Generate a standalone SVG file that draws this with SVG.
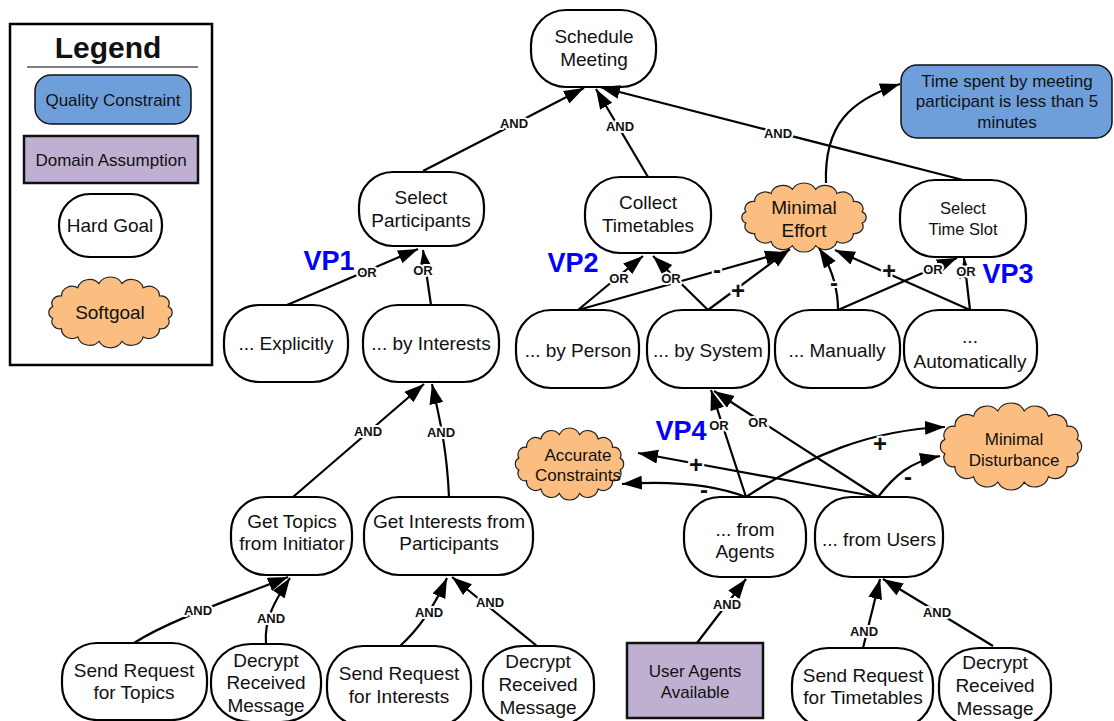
<svg xmlns="http://www.w3.org/2000/svg" width="1114" height="721" viewBox="0 0 1114 721">
<defs>
<style>
.goal{fill:#fff;stroke:#000;stroke-width:2.2}
.soft{fill:#fbbd80;stroke:#222;stroke-width:1.2}
.qc{fill:#6f9fdb;stroke:#111;stroke-width:1.5}
.da{fill:#bfb0d1;stroke:#111;stroke-width:2.5}
text{font-family:"Liberation Sans",Arial,sans-serif;fill:#111;text-anchor:middle}
.t17{font-size:19px}
.t15{font-size:17px}
.t16{font-size:16.5px}
.lbl{font-size:13px;font-weight:bold;stroke:#fff;stroke-width:4;paint-order:stroke;stroke-linejoin:round}
.sgn{font-size:24px;font-weight:bold;stroke:#fff;stroke-width:4;paint-order:stroke}
.vp{font-size:27px;font-weight:bold;fill:#0000ff}
.ln{fill:none;stroke:#000;stroke-width:2.2;marker-end:url(#arr)}
</style>
<marker id="arr" markerUnits="userSpaceOnUse" markerWidth="22" markerHeight="16" refX="20" refY="7" orient="auto"><path d="M0,0 L20,7 L0,14 Z" fill="#000"/></marker>
<!-- generic cloud outline, roughly a 100x60 box -->
<path id="cloud" vector-effect="non-scaling-stroke" d="M5.9,34.9 A5.5,5.5 0 0 1 5.9,25.1 A6.3,6.3 0 0 1 12.6,16.1 A8,8 0 0 1 25,9.2 A9.3,9.3 0 0 1 41.2,5.5 A9.8,9.8 0 0 1 58.8,5.5 A9.3,9.3 0 0 1 75,9.2 A8,8 0 0 1 87.4,16.1 A6.3,6.3 0 0 1 94.1,25.1 A5.5,5.5 0 0 1 94.1,34.9 A6.3,6.3 0 0 1 87.4,43.9 A8,8 0 0 1 75,50.8 A9.3,9.3 0 0 1 58.8,54.5 A9.8,9.8 0 0 1 41.2,54.5 A9.3,9.3 0 0 1 25,50.8 A8,8 0 0 1 12.6,43.9 A6.3,6.3 0 0 1 5.9,34.9 Z"/>
</defs>
<rect width="1114" height="721" fill="#fff"/>

<!-- legend -->
<g id="legend">
<rect x="10" y="24" width="202" height="341" fill="#fff" stroke="#000" stroke-width="2.5"/>
<text x="108" y="58" style="font-size:30px;font-weight:bold">Legend</text>
<line x1="27" y1="67" x2="198" y2="67" stroke="#000" stroke-width="1.2"/>
<rect class="qc" x="35" y="75" width="156" height="49" rx="16"/>
<text class="t15" x="113" y="106">Quality Constraint</text>
<rect class="da" x="24" y="136" width="174" height="47"/>
<text class="t15" x="111" y="166">Domain Assumption</text>
<rect class="goal" x="59" y="194" width="103" height="63" rx="31"/>
<text class="t17" x="110" y="232">Hard Goal</text>
<use href="#cloud" class="soft" transform="translate(45,277) scale(1.31,1.18)"/>
<text class="t17" x="110" y="319">Softgoal</text>
</g>

<!-- goals -->
<g id="schedule-meeting"><rect class="goal" x="531" y="10" width="125" height="77" rx="35"/><text class="t17" x="594" y="43">Schedule</text><text class="t17" x="594" y="66">Meeting</text></g>
<g id="select-participants"><rect class="goal" x="359" y="172" width="125" height="74" rx="34"/><text class="t17" x="421" y="204">Select</text><text class="t17" x="421" y="227">Participants</text></g>
<g id="collect-timetables"><rect class="goal" x="585" y="177" width="126" height="76" rx="35"/><text class="t17" x="648" y="209">Collect</text><text class="t17" x="648" y="232">Timetables</text></g>
<g id="minimal-effort"><use href="#cloud" class="soft" transform="translate(738,183) scale(1.32,1.15)"/><text class="t17" x="804" y="214">Minimal</text><text class="t17" x="804" y="237">Effort</text></g>
<g id="select-time-slot"><rect class="goal" x="900" y="180" width="126" height="77" rx="35"/><text class="t16" x="963" y="214">Select</text><text class="t16" x="963" y="235">Time Slot</text></g>
<g id="time-spent"><rect class="qc" x="901" y="65" width="211" height="73" rx="16"/><text class="t15" x="1007" y="87">Time spent by meeting</text><text class="t15" x="1007" y="107">participant is less than 5</text><text class="t15" x="1007" y="128">minutes</text></g>

<g id="explicitly"><rect class="goal" x="224" y="305" width="124" height="77" rx="35"/><text class="t17" x="286" y="350">... Explicitly</text></g>
<g id="by-interests"><rect class="goal" x="363" y="305" width="136" height="77" rx="35"/><text class="t17" x="431" y="350">... by Interests</text></g>
<g id="by-person"><rect class="goal" x="516" y="310" width="123" height="78" rx="35"/><text class="t17" x="578" y="357">... by Person</text></g>
<g id="by-system"><rect class="goal" x="647" y="310" width="122" height="78" rx="35"/><text class="t17" x="708" y="357">... by System</text></g>
<g id="manually"><rect class="goal" x="775" y="310" width="125" height="78" rx="35"/><text class="t17" x="837" y="357">... Manually</text></g>
<g id="automatically"><rect class="goal" x="904" y="310" width="133" height="78" rx="35"/><text class="t17" x="970" y="343">...</text><text class="t17" x="970" y="368">Automatically</text></g>

<g id="accurate-constraints"><use href="#cloud" class="soft" transform="translate(512,428) scale(1.15,1.2)"/><text class="t15" x="578" y="461">Accurate</text><text class="t15" x="578" y="481">Constraints</text></g>
<g id="minimal-disturbance"><use href="#cloud" class="soft" transform="translate(936,403) scale(1.5,1.45)"/><text class="t15" x="1014" y="445">Minimal</text><text class="t15" x="1014" y="466">Disturbance</text></g>

<g id="from-agents"><rect class="goal" x="684" y="497" width="122" height="80" rx="36"/><text class="t17" x="745" y="536">... from</text><text class="t17" x="745" y="558">Agents</text></g>
<g id="from-users"><rect class="goal" x="815" y="497" width="128" height="80" rx="36"/><text class="t17" x="879" y="546">... from Users</text></g>
<g id="get-topics"><rect class="goal" x="231" y="497" width="121" height="78" rx="35"/><text class="t17" x="292" y="528">Get Topics</text><text class="t17" x="292" y="550">from Initiator</text></g>
<g id="get-interests"><rect class="goal" x="364" y="497" width="169" height="78" rx="35"/><text class="t17" x="449" y="528">Get Interests from</text><text class="t17" x="449" y="550">Participants</text></g>

<g id="send-topics"><rect class="goal" x="62" y="643" width="145" height="77" rx="35"/><text class="t17" x="134" y="677">Send Request</text><text class="t17" x="134" y="699">for Topics</text></g>
<g id="decrypt-1"><rect class="goal" x="211" y="644" width="110" height="78" rx="40" ry="36"/><text class="t17" x="266" y="667">Decrypt</text><text class="t17" x="266" y="689">Received</text><text class="t17" x="266" y="712">Message</text></g>
<g id="send-interests"><rect class="goal" x="327" y="646" width="144" height="80" rx="36"/><text class="t17" x="399" y="680">Send Request</text><text class="t17" x="399" y="703">for Interests</text></g>
<g id="decrypt-2"><rect class="goal" x="483" y="646" width="111" height="80" rx="40" ry="36"/><text class="t17" x="538" y="668">Decrypt</text><text class="t17" x="538" y="691">Received</text><text class="t17" x="538" y="714">Message</text></g>
<g id="user-agents"><rect class="da" x="627" y="643" width="136" height="75"/><text class="t15" x="695" y="677">User Agents</text><text class="t15" x="695" y="698">Available</text></g>
<g id="send-timetables"><rect class="goal" x="792" y="648" width="141" height="80" rx="36"/><text class="t17" x="863" y="682">Send Request</text><text class="t17" x="863" y="704">for Timetables</text></g>
<g id="decrypt-3"><rect class="goal" x="939" y="648" width="112" height="80" rx="40" ry="36"/><text class="t17" x="995" y="669">Decrypt</text><text class="t17" x="995" y="692">Received</text><text class="t17" x="995" y="715">Message</text></g>

<!-- connectors -->
<g id="connectors">
<path class="ln" d="M423,171 L584,88"/>
<path class="ln" d="M648,177 L596,89"/>
<path class="ln" d="M963,180 L600,87"/>
<path class="ln" d="M826,183 C824,125 850,100 900,84"/>
<path class="ln" d="M287,305 L418,249"/>
<path class="ln" d="M431,305 L423,250"/>
<path class="ln" d="M578,310 L643,256"/>
<path class="ln" d="M708,310 L653,256"/>
<path class="ln" d="M578,310 L785,252"/>
<path class="ln" d="M708,310 L790,249"/>
<path class="ln" d="M838,310 C838,285 830,265 819,248"/>
<path class="ln" d="M970,310 L835,250"/>
<path class="ln" d="M838,310 L957,258"/>
<path class="ln" d="M970,310 L964,258"/>
<path class="ln" d="M746,497 L711,390"/>
<path class="ln" d="M878,497 L714,391"/>
<path class="ln" d="M746,497 C720,487 680,480 622,484"/>
<path class="ln" d="M878,497 L638,453"/>
<path class="ln" d="M746,497 C810,455 870,430 945,427"/>
<path class="ln" d="M878,497 C895,475 910,462 940,456"/>
<path class="ln" d="M293,497 L424,384"/>
<path class="ln" d="M449,497 C447,450 440,420 432,384"/>
<path class="ln" d="M134,643 C170,620 230,600 288,577"/>
<path class="ln" d="M266,643 C264,620 275,600 290,578"/>
<path class="ln" d="M400,646 C420,628 435,605 447,578"/>
<path class="ln" d="M537,646 L452,577"/>
<path class="ln" d="M697,643 L746,579"/>
<path class="ln" d="M863,648 L880,579"/>
<path class="ln" d="M993,646 L883,579"/>

<text class="lbl" x="514" y="128">AND</text>
<text class="lbl" x="620" y="131">AND</text>
<text class="lbl" x="778" y="138">AND</text>
<text class="lbl" x="367" y="277">OR</text>
<text class="lbl" x="423" y="275">OR</text>
<text class="lbl" x="619" y="283">OR</text>
<text class="lbl" x="671" y="283">OR</text>
<text class="sgn" x="717" y="278">-</text>
<text class="sgn" x="738" y="299">+</text>
<text class="sgn" x="834" y="291">-</text>
<text class="sgn" x="889" y="279">+</text>
<text class="lbl" x="933" y="274">OR</text>
<text class="lbl" x="966" y="276">OR</text>
<text class="lbl" x="719" y="430">OR</text>
<text class="lbl" x="758" y="427">OR</text>
<text class="sgn" x="704" y="498">-</text>
<text class="sgn" x="696" y="473">+</text>
<text class="sgn" x="880" y="452">+</text>
<text class="sgn" x="908" y="485">-</text>
<text class="lbl" x="368" y="436">AND</text>
<text class="lbl" x="441" y="437">AND</text>
<text class="lbl" x="198" y="615">AND</text>
<text class="lbl" x="271" y="623">AND</text>
<text class="lbl" x="429" y="617">AND</text>
<text class="lbl" x="490" y="607">AND</text>
<text class="lbl" x="727" y="609">AND</text>
<text class="lbl" x="864" y="636">AND</text>
<text class="lbl" x="937" y="617">AND</text>
</g>

<!-- variation point tags -->
<g id="variation-points">
<text class="vp" x="329" y="270">VP1</text>
<text class="vp" x="573" y="272">VP2</text>
<text class="vp" x="1008" y="283">VP3</text>
<text class="vp" x="681" y="440">VP4</text>
</g>
</svg>
